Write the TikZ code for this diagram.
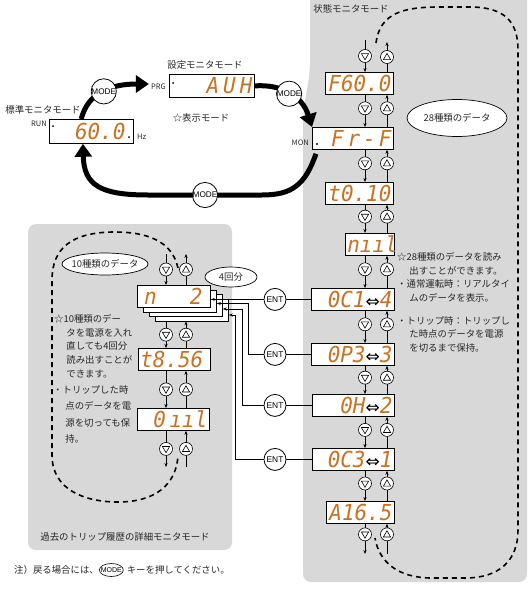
\documentclass[tikz,border=0pt]{standalone}
\usepackage{fontspec}
\setmainfont{Noto Sans CJK JP}
\newfontfamily\segfont[FakeStretch=0.95]{DejaVu Sans Mono}
\newfontfamily\symfont{DejaVu Sans}
\newfontfamily\keyfont{Liberation Sans}
\usetikzlibrary{arrows.meta,positioning,shapes.geometric,calc}
\definecolor{panelgray}{RGB}{216,216,216}
\definecolor{segcol}{RGB}{200,115,35}
\definecolor{inkgray}{RGB}{40,40,40}
\newcommand{\segiff}{{\normalfont\symfont\fontsize{17}{17}\selectfont\color{black}⇔}}
\tikzset{
  lcd/.style={draw, fill=white, line width=.8pt, anchor=north west, inner xsep=2pt, inner ysep=0pt,
    minimum height=22pt, text width=#1, align=right,
    font=\segfont\itshape\fontsize{22}{22}\selectfont, text=segcol},
  arrkey/.style={circle, draw, fill=white, line width=.6pt, minimum size=13pt, inner sep=0pt},
  keydn/.style={arrkey, path picture={\draw[line width=.6pt] ([shift={(-3.6pt,2.4pt)}]path picture bounding box.center) -- ++(7.2pt,0pt) -- ++(-3.6pt,-6.2pt) -- cycle;}},
  keyup/.style={arrkey, path picture={\draw[line width=.6pt] ([shift={(-3.6pt,-2.6pt)}]path picture bounding box.center) -- ++(7.2pt,0pt) -- ++(-3.6pt,6.2pt) -- cycle;}},
  flow/.style={line width=.6pt, -{Stealth[length=4pt,width=3.2pt]}},
  modeflow/.style={line width=5pt, -{Triangle[length=13pt,width=17pt]}},
  modekey/.style={circle, draw, fill=white, line width=.8pt, minimum size=25pt, inner sep=0pt, font=\keyfont\fontsize{8.2}{8.2}\selectfont},
  entkey/.style={circle, draw, fill=white, line width=.8pt, minimum size=22pt, inner sep=0pt, font=\keyfont\fontsize{8.4}{8.4}\selectfont},
  entline/.style={line width=.7pt},
  entarrow/.style={entline, -{Stealth[length=4pt,width=3pt]}},
  datacloud/.style={ellipse, draw, fill=white, line width=.7pt, inner sep=0pt, font=\fontsize{9.4}{10}\selectfont, text=inkgray},
  loopline/.style={line width=1.6pt, dash pattern=on 5pt off 4pt},
  jtext/.style={font=\fontsize{9.4}{13.8}\selectfont, text=inkgray, inner sep=0pt},
  tag/.style={font=\fontsize{7.5}{7.5}\selectfont, text=inkgray, inner sep=0pt},
  panel/.style={fill=panelgray, draw=none}
}
\begin{document}
\begin{tikzpicture}[x=1pt,y=-1pt]
\useasboundingbox (0,0) rectangle (531,589);
% grey panels
\path[panel] (310,-10) -- (310,60) .. controls (310,85) and (303,100) .. (303,125)
  [rounded corners=8pt] -- (303,582) -- (527,582) -- (527,-10) [sharp corners] -- cycle;
\path[panel, rounded corners=8pt] (28,224) rectangle (232,550);
% dashed loops
\draw[loopline] (376,43) .. controls (380,12) and (405,7) .. (440,7) -- (470,7)
  .. controls (505,7) and (518,22) .. (518,50) -- (518,530)
  .. controls (518,560) and (500,578) .. (465,578) -- (432,578)
  .. controls (398,578) and (379,562) .. (375,538);
\draw[loopline] (178,268) .. controls (172,240) and (145,232) .. (115,232)
  .. controls (72,232) and (52,248) .. (52,280) -- (52,455)
  .. controls (52,490) and (85,502) .. (118,502)
  .. controls (155,502) and (176,485) .. (178,456);

% mode labels
\node[jtext] (stdlbl) at (43,110) {標準モニタモード};
\node[jtext] (prglbl) at (205,65) {設定モニタモード};
\node[jtext] (dsplbl) at (201,118) {☆表示モード};
\node[jtext] (monlbl) at (351,9) {状態モニタモード};
\node[jtext] (triplbl) at (125,537) {過去のトリップ履歴の詳細モニタモード};

% displays
\node[lcd=80pt, minimum height=24pt] (std) at (49,119) {60.0\kern6pt};
\node[lcd=81pt, minimum height=23pt] (auh) at (169,74) {A\kern4pt U\kern4pt H};
\node[lcd=64pt] (f600) at (325,72) {F60.0};
\node[lcd=77pt] (frf) at (312,127) {F\kern4pt r\kern3pt -\kern3pt F};
\node[lcd=64pt] (t010) at (325,182) {t0.10};
\node[lcd=45pt] (nuul) at (345,233) {nııl};
\node[lcd=79pt] (oc14) at (311,288) {0C1\segiff 4};
\node[lcd=79pt] (op33) at (311,343) {0P3\segiff 3};
\node[lcd=78pt] (oh2) at (312,394) {0H\segiff 2};
\node[lcd=78pt] (oc31) at (312,448) {0C3\segiff 1};
\node[lcd=64pt] (a165) at (326,501) {A16.5};
\node[lcd=69pt] (s4) at (155,298.5) {};
\node[lcd=69pt] (s3) at (149,294) {};
\node[lcd=69pt] (s2) at (143,289.5) {};
\node[lcd=69pt] (n2) at (137,285) {n\kern33pt 2\kern6pt};
\node[lcd=68pt] (t856) at (138,348) {t8.56\kern8pt};
\node[lcd=68pt] (o1l) at (137,408) {0\,ııl};

% small marks and tags
\fill (53,126) circle[radius=1pt];
\fill (129,137) circle[radius=1pt];
\fill (173,83) circle[radius=1pt];
\fill (317,144) circle[radius=1.2pt];
\node[tag, anchor=east] (runlbl) at (47,124) {RUN};
\node[tag, anchor=west] (hzlbl) at (137,137) {Hz};
\node[tag, anchor=east] (prg) at (166,87) {PRG};
\node[tag, anchor=east] (mon) at (309,143) {MON};

% MODE loop
\draw[modeflow] ($(std.north west)!.38!(std.north east)$) .. controls (88,92) and (112,84) .. ($(prg.west)+(-2,-3)$)
  node[modekey, pos=.5] (mode1) {MODE};
\draw[modeflow] (auh.east) .. controls (280,84) and (302,95) .. (frf.north west)
  node[modekey, pos=.5] (mode2) {MODE};
\draw[modeflow] ($(frf.south west)+(4,4)$) .. controls (305,185) and (292,195) .. (262,195)
  -- node[modekey] (mode3) {MODE} (148,195)
  .. controls (100,195) and (84,185) .. ($(std.south west)!.4!(std.south east)$);

% up/down keys, right column
\coordinate (dn) at (365,0);
\coordinate (up) at (387,0);
\coordinate (rtopd) at (365,40);
\coordinate (rtopu) at (387,42);
\coordinate (rbotd) at (365,554);
\coordinate (rbotu) at (387,554);
\draw[flow] (rtopd) -- node[keydn, pos=.5] (dk-f600) {} (f600.north -| dn);
\draw[flow] (f600.north -| up) -- node[keyup, pos=.5] (uk-f600) {} (rtopu);
\foreach \a/\b in {f600/frf,frf/t010,t010/nuul,nuul/oc14,oc14/op33,op33/oh2,oh2/oc31,oc31/a165}{
  \draw[flow] (\a.south -| dn) -- node[keydn, pos=.42] (dk-\b) {} (\b.north -| dn);
  \draw[flow] (\b.north -| up) -- node[keyup, pos=.58] (uk-\b) {} (\a.south -| up);
}
\draw[flow] (a165.south -| dn) -- node[keydn, pos=.35] (dk-end) {} (rbotd);
\draw[flow] (rbotu) -- node[keyup, pos=.65] (uk-end) {} (a165.south -| up);

% up/down keys, left column
\coordinate (ldn) at (166,0);
\coordinate (lup) at (186,0);
\coordinate (ltopd) at (166,254);
\coordinate (ltopu) at (186,254);
\coordinate (lbotd) at (166,467);
\coordinate (lbotu) at (186,467);
\draw[flow] (ltopd) -- node[keydn] (dk-n2) {} (n2.north -| ldn);
\draw[flow] (n2.north -| lup) -- node[keyup] (uk-n2) {} (ltopu);
\draw[flow] (s4.south -| ldn) -- node[keydn] (dk-t856) {} (t856.north -| ldn);
\draw[flow] (t856.north -| lup) -- node[keyup] (uk-t856) {} (s4.south -| lup);
\draw[flow] (t856.south -| ldn) -- node[keydn] (dk-o1l) {} (o1l.north -| ldn);
\draw[flow] (o1l.north -| lup) -- node[keyup] (uk-o1l) {} (t856.south -| lup);
\draw[flow] (o1l.south -| ldn) -- node[keydn] (dk-lend) {} (lbotd);
\draw[flow] (lbotu) -- node[keyup] (uk-lend) {} (o1l.south -| lup);

% ENT keys
\coordinate (entx) at (275,0);
\node[entkey] (ent1) at (oc14.west -| entx) {ENT};
\node[entkey] (ent2) at (op33.west -| entx) {ENT};
\node[entkey] (ent3) at (oh2.west -| entx) {ENT};
\node[entkey] (ent4) at (oc31.west -| entx) {ENT};
\draw[entline] (ent1) -- (oc14);
\draw[entline] (ent2) -- (op33);
\draw[entline] (ent3) -- (oh2);
\draw[entline] (ent4) -- (oc31);
\coordinate (v2) at (248,303.5);
\coordinate (v3) at (242,309);
\coordinate (v4) at (235,315);
\draw[entarrow] (ent1) -- (ent1 -| n2.east);
\draw[entarrow] (ent2) -| (v2) -- (v2 -| s2.east);
\draw[entarrow] (ent3) -| (v3) -- (v3 -| s3.east);
\draw[entarrow] (ent4) -| (v4) -- (v4 -| s4.east);

% data bubbles
\node[datacloud, minimum width=100pt, minimum height=37pt] (d28) at (457,118) {28種類のデータ};
\node[datacloud, minimum width=85pt, minimum height=22pt, inner xsep=-3pt] (d10) at (105,264) {10種類のデータ};
\node[datacloud, minimum width=52pt, minimum height=20pt] (d4) at (231,277) {4回分};

% notes
\node[jtext, anchor=north west, align=left] (d28note) at (397,252)
  {☆28種類のデータを読み\\\hspace*{1.3em}出すことができます。\\・通常運転時：リアルタイ\\\hspace*{1.3em}ムのデータを表示。};
\node[jtext, anchor=north west, align=left] (tripnote) at (397,316)
  {・トリップ時：トリップし\\\hspace*{1.3em}た時点のデータを電源\\\hspace*{1.3em}を切るまで保持。};
\node[jtext, anchor=north west, align=left] (d10note) at (54,314)
  {☆10種類のデー\\\hspace*{1.3em}タを電源を入れ\\\hspace*{1.3em}直しても4回分\\\hspace*{1.3em}読み出すことが\\\hspace*{1.3em}できます。};
\node[jtext, anchor=north west, align=left, font=\fontsize{9.4}{16.6}\selectfont] (tripnote2) at (53,385)
  {・トリップした時\\\hspace*{1.3em}点のデータを電\\\hspace*{1.3em}源を切っても保\\\hspace*{1.3em}持。};

% footer
\node[jtext, anchor=west] (note1) at (14,570) {注）戻る場合には、};
\node[ellipse, draw, line width=.6pt, inner xsep=-2pt, inner ysep=0pt, minimum width=22pt, minimum height=13pt,
  font=\keyfont\fontsize{7}{7}\selectfont, right=0pt of note1] (notekey) {MODE};
\node[jtext, right=3pt of notekey] (note2) {キーを押してください。};
\end{tikzpicture}
\end{document}
